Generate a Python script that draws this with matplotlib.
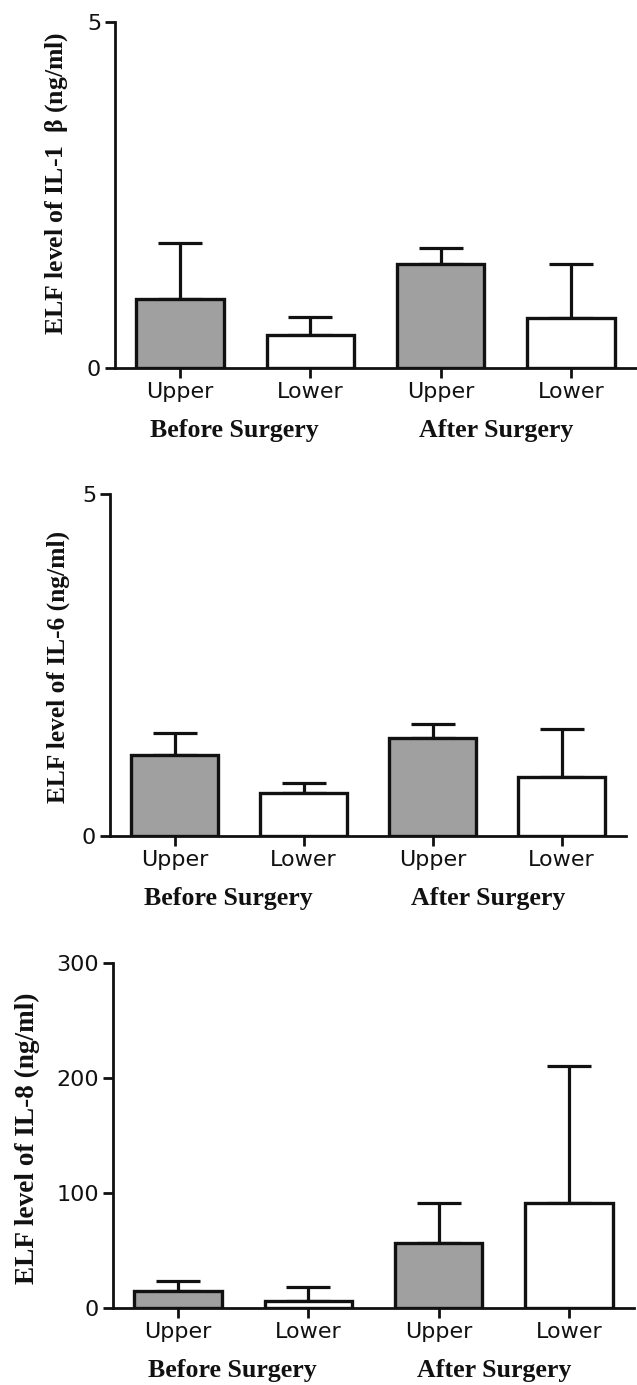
import matplotlib
matplotlib.use("Agg")
import matplotlib.pyplot as plt
import matplotlib.transforms as mtransforms
import numpy as np

plt.rcParams['mathtext.fontset'] = 'custom'
plt.rcParams['mathtext.rm'] = 'Liberation Serif'

categories = ["Upper", "Lower", "Upper", "Lower"]
groups = ["Before Surgery", "After Surgery"]

il1b_mean = [1.00, 0.47, 1.50, 0.72]
il1b_sd = [0.81, 0.27, 0.23, 0.79]
il6_mean = [1.18, 0.63, 1.43, 0.86]
il6_sd = [0.32, 0.15, 0.21, 0.71]
il8_mean = [14.5, 5.8, 56.5, 91.3]
il8_sd = [8.7, 12.5, 34.8, 119.4]

ylabels = [r"ELF level of IL-1  $\mathregular{\beta}$ (ng/ml)",
           "ELF level of IL-6 (ng/ml)",
           "ELF level of IL-8 (ng/ml)"]
yticks = [[0, 5], [0, 5], [0, 100, 200, 300]]
ylims = [(0, 5), (0, 5), (0, 300)]

bar_colors = ["#a0a0a0", "white", "#a0a0a0", "white"]

W, H = 637, 1385
fig = plt.figure(figsize=(W / 100, H / 100), dpi=100)

# axes rectangles in pixels: left, right, top, bottom
rects = [(115, 636, 22, 368), (110, 626, 494, 836), (113, 634, 963, 1308)]
label_pos = [(-0.086, 0.535), (-0.078, 0.494), (-0.140, 0.493)]
label_sizes = [18.5, 18.4, 19.6]

data = [(il1b_mean, il1b_sd), (il6_mean, il6_sd), (il8_mean, il8_sd)]

for i, ((means, sds), (l, r, t, b)) in enumerate(zip(data, rects)):
    ax = fig.add_axes([l / W, 1 - b / H, (r - l) / W, (b - t) / H])
    x = np.arange(len(categories))
    ax.errorbar(x, means, yerr=[np.zeros(len(sds)), sds], fmt='none',
                ecolor='#111111', elinewidth=2.3, capsize=16, capthick=2.3,
                zorder=1, clip_on=False)
    ax.bar(x, means, width=0.67, color=bar_colors, edgecolor='#111111',
           linewidth=2.4, zorder=2)
    ax.set_xlim(-0.5, 3.5)
    ax.set_ylim(*ylims[i])
    ax.set_yticks(yticks[i])
    ax.set_xticks(x)
    ax.set_xticklabels(categories, fontsize=16, family='DejaVu Sans')
    for lab in ax.get_yticklabels():
        lab.set_fontsize(16)
    for s in ['top', 'right']:
        ax.spines[s].set_visible(False)
    for s in ['left', 'bottom']:
        ax.spines[s].set_linewidth(2.0)
        ax.spines[s].set_color('#111111')
    ax.tick_params(axis='both', length=7, width=2.0, color='#111111',
                   labelcolor='#111111', pad=3)
    ax.set_ylabel(ylabels[i], fontsize=label_sizes[i], fontweight='bold',
                  family='Liberation Serif', color='#111111')
    ax.yaxis.set_label_coords(*label_pos[i])
    trans = mtransforms.blended_transform_factory(ax.transData, ax.transAxes)
    off = mtransforms.offset_copy(trans, fig=fig, y=-63, units='dots')
    for gx, g in zip([0.42, 2.43], groups):
        ax.text(gx, 0, g, transform=off, ha='center', va='center',
                fontsize=18.6, fontweight='bold', family='Liberation Serif',
                color='#111111')

fig.savefig("out.png", dpi=100)
